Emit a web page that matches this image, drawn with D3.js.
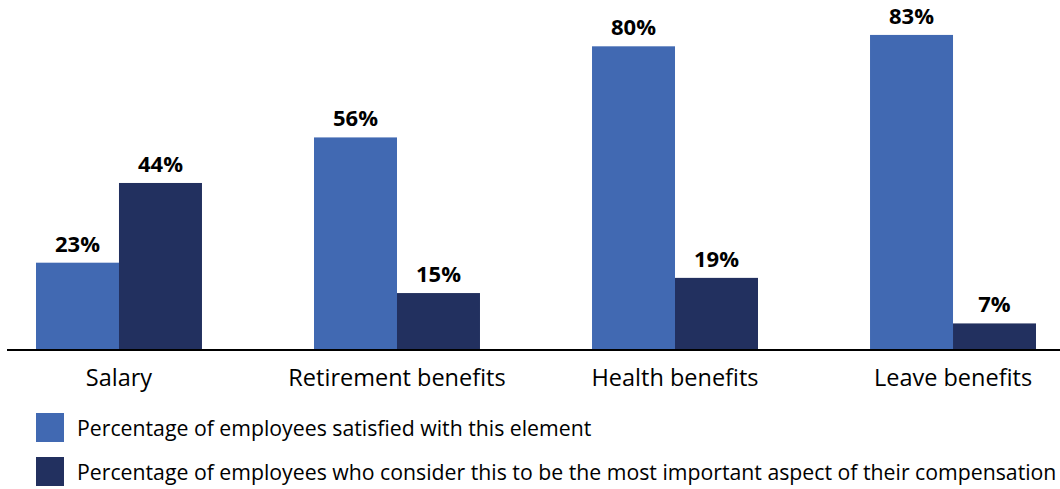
<!DOCTYPE html>
<html><head><meta charset="utf-8">
<script src="https://cdn.jsdelivr.net/npm/d3@7"></script>
<style>body{margin:0;background:#fff}svg{display:block}text{font-family:"Open Sans","Noto Sans",sans-serif}</style>
</head><body><svg id="c" width="1060" height="489"></svg>
<script>
const categories = ["Salary","Retirement benefits","Health benefits","Leave benefits"];
const seriesNames = ["Percentage of employees satisfied with this element",
  "Percentage of employees who consider this to be the most important aspect of their compensation"];
const satisfied = [23,56,80,83];
const important = [44,15,19,7];
const colors = ["#4169B2","#22305F"];

const svg = d3.select("#c");
const x0 = d3.scaleBand().domain(categories).range([36,1036]).paddingInner(0.403).paddingOuter(0);
const x1 = d3.scaleBand().domain([0,1]).range([0,x0.bandwidth()]);
const y = d3.scaleLinear().domain([0,92.2]).range([350,0]);

const data = categories.map((c,i)=>({c, v:[satisfied[i],important[i]]}));
const g = svg.selectAll("g.cat").data(data).join("g").attr("transform",d=>`translate(${x0(d.c)},0)`);
g.selectAll("rect").data(d=>d.v.map((v,k)=>({v,k}))).join("rect")
  .attr("x",d=>x1(d.k)).attr("width",x1.bandwidth())
  .attr("y",d=>y(d.v)).attr("height",d=>y(0)-y(d.v)).attr("fill",d=>colors[d.k]);
g.selectAll("text.val").data(d=>d.v.map((v,k)=>({v,k}))).join("text").attr("class","val")
  .attr("x",d=>x1(d.k)+x1.bandwidth()/2).attr("y",d=>y(d.v)-11)
  .attr("text-anchor","middle").style("font-weight","bold").style("font-size","22px").attr("fill","#000")
  .text(d=>d.v+"%");

svg.append("line").attr("x1",7).attr("x2",1060).attr("y1",y(0)).attr("y2",y(0)).attr("stroke","#000").attr("stroke-width",2);

const xAxis = d3.axisBottom(x0).tickSize(0).tickPadding(0);
const ax = svg.append("g").attr("transform",`translate(0,${y(0)})`).call(xAxis);
ax.select(".domain").remove();
ax.attr("font-size",null).attr("font-family",null);
ax.selectAll("text").style("font-size","23.5px").attr("fill","#000").attr("dy",null).attr("y",36);

const lg = svg.selectAll("g.leg").data(seriesNames).join("g").attr("transform",(d,i)=>`translate(36,${413+i*44})`);
lg.append("rect").attr("width",28).attr("height",29).attr("fill",(d,i)=>colors[i]);
lg.append("text").attr("x",41).attr("y",23).style("font-size","19px").attr("fill","#000").text(d=>d);
const t2 = lg.filter((d,i)=>i===1).select("text").node();
const fs = 19*980/t2.getComputedTextLength();
lg.select("text").style("font-size",fs+"px");
</script></body></html>
